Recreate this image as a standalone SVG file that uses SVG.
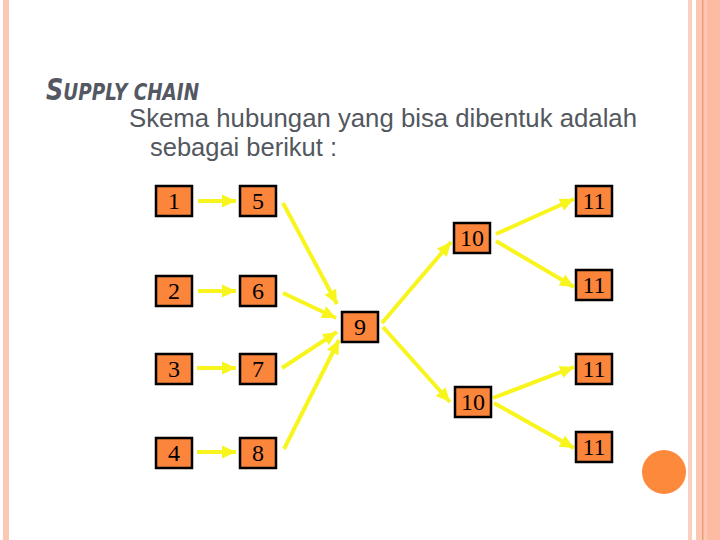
<svg xmlns="http://www.w3.org/2000/svg" width="720" height="540" viewBox="0 0 720 540">
<style>
.box rect{fill:#fb853b;stroke:#000;stroke-width:2.5}
.box text{font-family:"Liberation Serif",serif;font-size:24px;fill:#000;text-anchor:middle}
.conn line{stroke:#f8f51e;stroke-width:4;marker-end:url(#ah)}
.body{font-family:"Liberation Sans",Arial,sans-serif;font-size:26px;fill:#53575e}
</style>
<defs>
<marker id="ah" markerUnits="userSpaceOnUse" markerWidth="15" markerHeight="15" viewBox="0 0 15 15" refX="14" refY="7.5" orient="auto">
<path d="M0,1 L14,7.5 L0,14 z" fill="#f8f51e"/>
</marker>
</defs>
<rect width="720" height="540" fill="#fff"/>
<g id="frame">
<rect x="3" y="0" width="6" height="540" fill="#fbc8b3"/>
<rect x="688" y="0" width="4" height="540" fill="#fbcfbf"/>
<rect x="696" y="0" width="24" height="540" fill="#fcc8b4"/>
<rect x="702" y="0" width="1.5" height="540" fill="#ee9d78"/>
<rect x="707" y="0" width="13" height="540" fill="#fdbba3"/>
</g>
<circle cx="664" cy="472" r="22" fill="#fd893a"/>
<text transform="translate(46,100) scale(0.8,1)" x="0" y="0" font-family="'DejaVu Sans',sans-serif" font-weight="bold" font-style="italic" fill="#545862" font-size="30">S<tspan font-size="23">UPPLY CHAIN</tspan></text>
<text class="body" x="129" y="127" textLength="508" lengthAdjust="spacingAndGlyphs">Skema hubungan yang bisa dibentuk adalah</text>
<text class="body" x="150" y="156" textLength="187" lengthAdjust="spacingAndGlyphs">sebagai berikut :</text>
<g class="conn" id="connectors">
<line x1="198" y1="201" x2="236" y2="201"/>
<line x1="198" y1="291" x2="236" y2="291"/>
<line x1="197" y1="368" x2="236" y2="368"/>
<line x1="197" y1="452" x2="236" y2="452"/>
<line x1="283" y1="203" x2="337" y2="304"/>
<line x1="283" y1="293" x2="336" y2="318"/>
<line x1="282" y1="368" x2="337" y2="332"/>
<line x1="284" y1="449" x2="339" y2="340"/>
<line x1="382" y1="323" x2="451" y2="242"/>
<line x1="383" y1="327" x2="450" y2="402"/>
<line x1="496" y1="234" x2="574" y2="199"/>
<line x1="496" y1="241" x2="574" y2="287"/>
<line x1="493" y1="398" x2="574" y2="367"/>
<line x1="494" y1="403" x2="574" y2="448"/>
</g>
<g class="box" id="n1"><rect x="156" y="186" width="36" height="30"/><text x="174" y="209">1</text></g>
<g class="box" id="n5"><rect x="240" y="186" width="36" height="30"/><text x="258" y="209">5</text></g>
<g class="box" id="n11a"><rect x="576" y="186" width="36" height="30"/><text x="594" y="209">11</text></g>
<g class="box" id="n10a"><rect x="454" y="223" width="36" height="30"/><text x="472" y="246">10</text></g>
<g class="box" id="n2"><rect x="156" y="276" width="36" height="30"/><text x="174" y="299">2</text></g>
<g class="box" id="n6"><rect x="240" y="276" width="36" height="30"/><text x="258" y="299">6</text></g>
<g class="box" id="n11b"><rect x="576" y="270" width="36" height="30"/><text x="594" y="293">11</text></g>
<g class="box" id="n9"><rect x="342" y="312" width="36" height="30"/><text x="360" y="335">9</text></g>
<g class="box" id="n3"><rect x="156" y="354" width="36" height="30"/><text x="174" y="377">3</text></g>
<g class="box" id="n7"><rect x="240" y="354" width="36" height="30"/><text x="258" y="377">7</text></g>
<g class="box" id="n11c"><rect x="576" y="354" width="36" height="30"/><text x="594" y="377">11</text></g>
<g class="box" id="n10b"><rect x="455" y="387" width="36" height="30"/><text x="473" y="410">10</text></g>
<g class="box" id="n4"><rect x="156" y="438" width="36" height="30"/><text x="174" y="461">4</text></g>
<g class="box" id="n8"><rect x="240" y="438" width="36" height="30"/><text x="258" y="461">8</text></g>
<g class="box" id="n11d"><rect x="576" y="432" width="36" height="30"/><text x="594" y="455">11</text></g>
</svg>
